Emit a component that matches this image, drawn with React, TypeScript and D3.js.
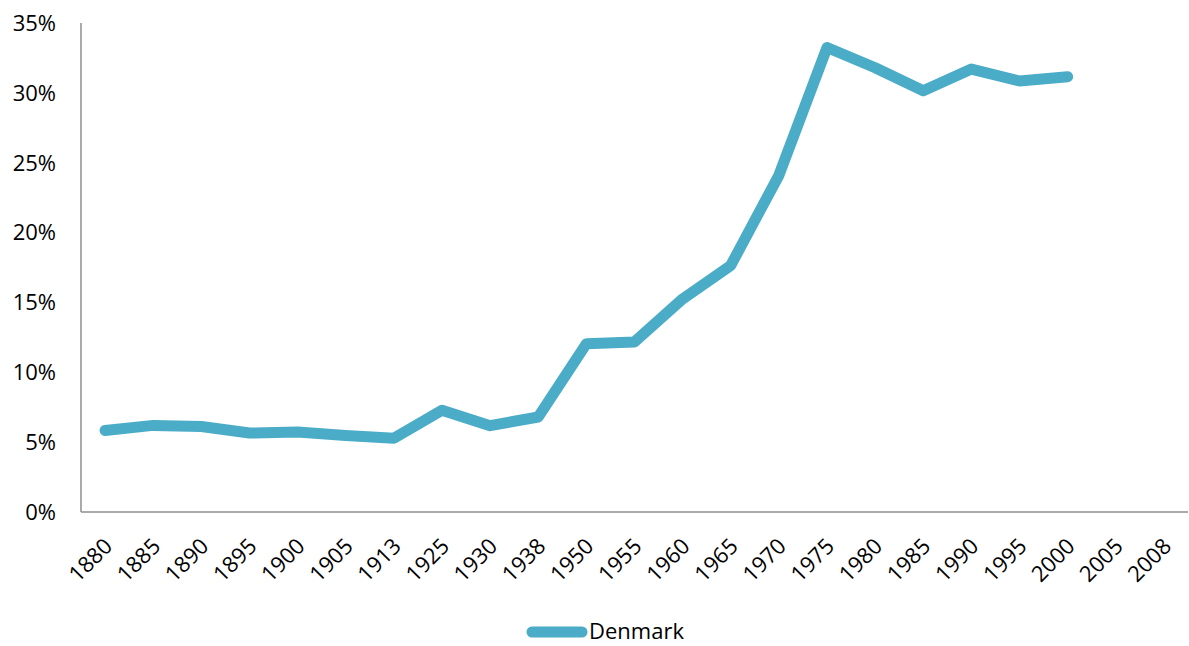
import React from "react";
import * as d3 from "d3";

const years = [
  "1880", "1885", "1890", "1895", "1900", "1905", "1913", "1925", "1930", "1938",
  "1950", "1955", "1960", "1965", "1970", "1975", "1980", "1985", "1990", "1995",
  "2000", "2005", "2008",
];

// Share of GDP (fraction), Denmark
const denmark: (number | null)[] = [
  0.0584, 0.062, 0.0612, 0.0565, 0.0572, 0.0548, 0.0528, 0.0728, 0.0618, 0.068,
  0.1205, 0.1217, 0.1525, 0.1765, 0.241, 0.3325, 0.318, 0.3015, 0.317, 0.3085,
  0.3115, null, null,
];

const yTicks = [0, 0.05, 0.1, 0.15, 0.2, 0.25, 0.3, 0.35];

const W = 1189;
const H = 646;
const left = 81;
const right = 1188;
const top = 23;
const bottom = 512;

const COLOR = "#4aacc6";
const FONT = "'Open Sans', sans-serif";

export default function App() {
  const x = d3.scaleBand<string>().domain(years).range([left, right]);
  const y = d3.scaleLinear().domain([0, 0.35]).range([bottom, top]);
  const cx = (yr: string) => (x(yr) ?? 0) + x.bandwidth() / 2;

  const pts = years
    .map((yr, i) => ({ yr, v: denmark[i] }))
    .filter((d) => d.v !== null) as { yr: string; v: number }[];

  const line = d3
    .line<{ yr: string; v: number }>()
    .x((d) => cx(d.yr))
    .y((d) => y(d.v));

  const fmt = d3.format(".0%");

  return (
    <svg
      width={W}
      height={H}
      style={{ position: "absolute", left: 0, top: 0, background: "#fff" }}
    >
      {/* axes */}
      <line x1={left} x2={left} y1={top} y2={bottom} stroke="#8e8e8e" strokeWidth={1.5} />
      <line x1={left} x2={right} y1={bottom} y2={bottom} stroke="#8e8e8e" strokeWidth={1.5} />

      {/* y tick labels */}
      {yTicks.map((t) => (
        <text
          key={t}
          x={56}
          y={y(t)}
          dy="0.36em"
          textAnchor="end"
          fontFamily={FONT}
          fontSize={22}
          fill="#000"
        >
          {fmt(t)}
        </text>
      ))}

      {/* x tick labels */}
      {years.map((yr) => (
        <text
          key={yr}
          transform={`translate(${cx(yr) + 3},${bottom + 30}) rotate(-45)`}
          textAnchor="end"
          dy="0.36em"
          fontFamily={FONT}
          fontSize={22}
          fill="#000"
        >
          {yr}
        </text>
      ))}

      {/* series */}
      <path
        d={line(pts) ?? ""}
        fill="none"
        stroke={COLOR}
        strokeWidth={11}
        strokeLinecap="round"
        strokeLinejoin="round"
      />

      {/* legend */}
      <line x1={532} x2={582} y1={632} y2={632} stroke={COLOR} strokeWidth={11} strokeLinecap="round" />
      <text x={589} y={639} fontFamily={FONT} fontSize={22} fill="#000">
        Denmark
      </text>
    </svg>
  );
}
